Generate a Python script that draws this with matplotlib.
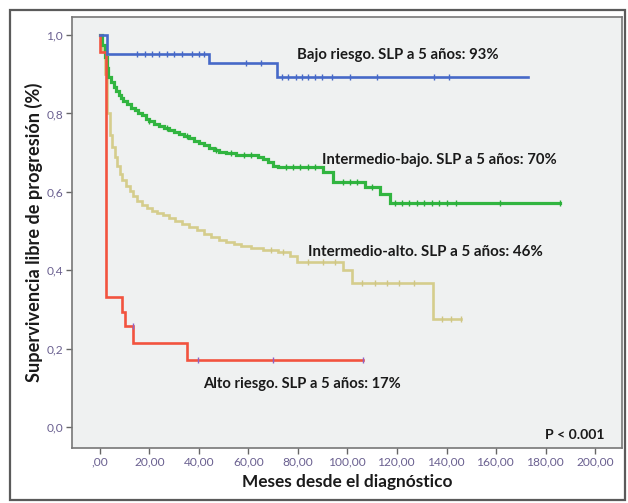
import matplotlib
matplotlib.use("Agg")
import matplotlib.pyplot as plt
from matplotlib.patches import Rectangle
import numpy as np

# --- Kaplan-Meier curves: event times (months) and survival after each step ---
bajo_t = [0, 2.8, 44.0, 71.5, 172.8]
bajo_s = [1.0, 0.952, 0.929, 0.894, 0.894]
bajo_cens = [15, 18, 21, 24, 27, 30, 33, 37, 40, 42, 59, 65, 73.5, 76, 79,
             81.6, 84, 87, 89.7, 93.7, 101, 112, 135, 141]

ib_t = [0, 1.0, 2.0, 2.8, 3.4, 4.5, 5.5, 6.5, 7.5, 8.5, 9.5, 11, 12.5, 14,
        15.5, 17, 18.5, 20, 22, 24, 26, 28, 30, 32, 34, 36, 38, 40, 42, 44,
        46, 48, 51, 55, 64, 66, 68, 70, 72, 90.2, 94.3, 107, 113, 117, 186]
ib_s = [1.0, 0.975, 0.945, 0.915, 0.892, 0.880, 0.868, 0.857, 0.848, 0.840,
        0.832, 0.823, 0.815, 0.808, 0.801, 0.795, 0.787, 0.780, 0.773, 0.767,
        0.762, 0.757, 0.752, 0.747, 0.742, 0.737, 0.731, 0.725, 0.719, 0.713,
        0.707, 0.702, 0.698, 0.695, 0.689, 0.683, 0.675, 0.667, 0.663, 0.650,
        0.625, 0.612, 0.595, 0.571, 0.571]
ib_cens = [20, 27, 35, 47, 53, 58, 61, 75, 78, 81, 84, 87, 98, 101, 104,
           110, 119, 122, 125, 128, 131, 134, 137, 140, 144, 161.6, 186]

ia_t = [0, 1.0, 2.0, 3.0, 4.0, 5, 6, 7, 8, 9, 10.5, 12, 13.5, 15, 17, 19,
        21, 23, 25.5, 28, 30.5, 33, 36, 39, 42, 45, 48, 51, 54, 57, 61, 66,
        72, 76.8, 79.5, 98, 101.7, 134.7, 146]
ia_s = [1.0, 0.96, 0.90, 0.80, 0.745, 0.715, 0.69, 0.665, 0.645, 0.63,
        0.615, 0.603, 0.590, 0.578, 0.566, 0.558, 0.552, 0.546, 0.540, 0.533,
        0.526, 0.518, 0.510, 0.502, 0.493, 0.485, 0.478, 0.472, 0.467, 0.462,
        0.457, 0.451, 0.446, 0.436, 0.421, 0.400, 0.369, 0.277, 0.277]
ia_cens = [69, 74, 84, 90, 95, 106, 111, 116, 121, 127, 138, 142, 146]

alto_t = [0, 0.2, 2.6, 9.0, 10.0, 13.5, 35.0, 106.4]
alto_s = [1.0, 0.958, 0.333, 0.294, 0.258, 0.214, 0.172, 0.172]
alto_cens = [13.3, 39.7, 70.0, 106.4]

x_ticks = [0, 20, 40, 60, 80, 100, 120, 140, 160, 180, 200]
x_tick_labels = [",00", "20,00", "40,00", "60,00", "80,00", "100,00",
                 "120,00", "140,00", "160,00", "180,00", "200,00"]
y_ticks = [0.0, 0.2, 0.4, 0.6, 0.8, 1.0]
y_tick_labels = ["0,0", "0,2", "0,4", "0,6", "0,8", "1,0"]

# annotation text, x, y (data units), desired width in pixels
labels = [
    ("Bajo riesgo. SLP a 5 años: 93%", 79.5, 0.950, 200),
    ("Intermedio-bajo. SLP a 5 años: 70%", 89.5, 0.682, 235),
    ("Intermedio-alto. SLP a 5 años: 46%", 84.2, 0.447, 235),
    ("Alto riesgo. SLP a 5 años: 17%", 41.8, 0.111, 197),
]

plt.rcParams["font.family"] = ["Lato", "DejaVu Sans"]

fig = plt.figure(figsize=(6.28, 5.03), dpi=100)
fig.patch.set_facecolor("white")

# outer frame
fig.patches.append(Rectangle((10 / 628, 1 - 500 / 503), 615 / 628, 490 / 503,
                             transform=fig.transFigure, fill=False,
                             edgecolor="#5a5a5a", linewidth=1.6))

ax = fig.add_axes([72 / 628, 1 - 448 / 503, 550 / 628, 431 / 503])
ax.set_facecolor("#eff1f1")


def km(t, s, cens, color, mark_color, lw=1.9):
    ax.step(t, s, where="post", color=color, lw=lw, solid_joinstyle="miter")
    idx = np.searchsorted(t, cens, side="right") - 1
    ys = np.asarray(s)[idx]
    ax.plot(cens, ys, linestyle="none", marker="|", markersize=4,
            markeredgewidth=1.0, color=mark_color)


km(ia_t, ia_s, ia_cens, "#d5cd8c", "#cfc685")
km(ib_t, ib_s, ib_cens, "#31b540", "#2aae3a", lw=2.3)
km(alto_t, alto_s, alto_cens, "#f2533f", "#8e63c4")
km(bajo_t, bajo_s, bajo_cens, "#4669c8", "#4669c8")

texts = []
for txt, x, y, w in labels:
    t = ax.text(x, y, txt, fontsize=9, fontweight="bold", color="#1a1a1a",
                ha="left", va="center")
    texts.append((t, w))

p_txt = ax.text(179.8, -0.02, "P < 0.001", fontsize=9.5, fontweight="bold",
                color="#1a1a1a", ha="left", va="center")
texts.append((p_txt, 60))

ax.set_xlim(-11.3, 210.9)
ax.set_ylim(-0.053, 1.046)
ax.set_xticks(x_ticks)
ax.set_xticklabels(x_tick_labels)
ax.set_yticks(y_ticks)
ax.set_yticklabels(y_tick_labels)
ax.tick_params(axis="both", direction="out", length=4, width=1,
               color="#666666", labelsize=7, labelcolor="#6a6090", pad=2)

for sp in ax.spines.values():
    sp.set_color("#777777")
    sp.set_linewidth(1.2)

xl = ax.set_xlabel("Meses desde el diagnóstico", fontsize=10.5,
                   fontweight="bold", color="#1a1a1a", labelpad=5)
yl = ax.set_ylabel("Supervivencia libre de progresión (%)", fontsize=10,
                   fontweight="bold", color="#1a1a1a", labelpad=3)

# scale text sizes so each string spans its intended width
fig.canvas.draw()
renderer = fig.canvas.get_renderer()
for t, w in texts:
    cur = t.get_window_extent(renderer).width
    t.set_fontsize(t.get_fontsize() * w / cur)

cur = xl.get_window_extent(renderer).width
xl.set_fontsize(xl.get_fontsize() * 211 / cur)
cur = yl.get_window_extent(renderer).height
yl.set_fontsize(yl.get_fontsize() * 300 / cur)

ref = ax.get_xticklabels()[5]
cur = ref.get_window_extent(renderer).width
tick_fs = 7 * 37 / cur
ax.tick_params(axis="both", labelsize=tick_fs)

fig.savefig("out.png", dpi=100, facecolor=fig.get_facecolor())
